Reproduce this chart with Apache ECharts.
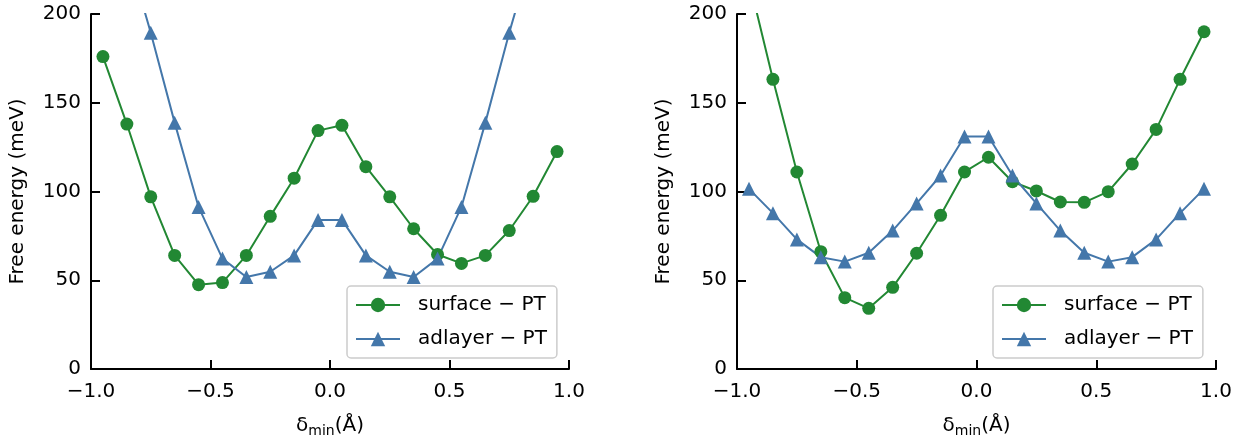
<!DOCTYPE html>
<html><head><meta charset="utf-8">
<script src="https://cdn.jsdelivr.net/npm/echarts@6/dist/echarts.min.js"></script>
<style>html,body{margin:0;padding:0;background:#fff}#c{width:1235px;height:437px}</style>
</head><body><div id="c"></div>
<script>
const deltas = [-0.95,-0.85,-0.75,-0.65,-0.55,-0.45,-0.35,-0.25,-0.15,-0.05,0.05,0.15,0.25,0.35,0.45,0.55,0.65,0.75,0.85,0.95];
const leftSurface = [176,138,97,64,47.5,48.7,64,86,107.5,134.3,137.3,114,97,79,64.5,59.5,64,78,97.3,122.5];
const leftAdlayer = [null,236,189.5,138.8,91.3,62.2,51.8,54.8,64,84,84,64,54.8,51.8,62.2,91.3,138.8,189.5,236,null];
const rightSurface = [219,163.2,111,66.1,40.2,34.2,46,65.2,86.6,111,119.3,105.5,100.3,94.1,93.9,99.9,115.5,135,163.2,190];
const rightAdlayer = [101.5,87.8,73,63,60.5,65.5,78,93.3,109,131,131,109,93.3,78,65.5,60.5,63,73,87.8,101.5];
const yTicks = [0,50,100,150,200];
const xTickLabels = ['−1.0','−0.5','0.0','0.5','1.0'];
const seriesNames = ['surface − PT','adlayer − PT'];

const GREEN = '#228833', BLUE = '#4477aa';
const FONT = 'DejaVu Sans';
const FS = 20;
const pairs = ys => deltas.map((x,i)=>[x, ys[i]]);

function xAxis(gi){
  return {
    gridIndex: gi, type:'value', min:-1, max:1, interval:0.5,
    axisLine:{onZero:false,lineStyle:{color:'#000',width:2}},
    axisTick:{inside:true,length:9,lineStyle:{color:'#000',width:2}},
    splitLine:{show:false},
    axisLabel:{color:'#000',fontFamily:FONT,fontSize:FS,margin:13,
      formatter:v=>xTickLabels[Math.round((v+1)/0.5)]},
    name:'{a|δ}{s|min}{a|(Å)}', nameLocation:'middle', nameGap:45,
    nameTextStyle:{rich:{a:{fontFamily:FONT,fontSize:FS,color:'#000'},
      s:{fontFamily:FONT,fontSize:14,color:'#000',padding:[10,0,0,0]}}}
  };
}
function yAxis(gi){
  return {
    gridIndex: gi, type:'value', min:0, max:200, interval:50,
    axisLine:{show:true,onZero:false,lineStyle:{color:'#000',width:2}},
    axisTick:{show:true,inside:true,length:9,lineStyle:{color:'#000',width:2}},
    splitLine:{show:false},
    axisLabel:{color:'#000',fontFamily:FONT,fontSize:FS,margin:10,
      formatter:v=>String(yTicks[yTicks.indexOf(v)])},
    name:'Free energy (meV)', nameLocation:'middle', nameGap:63,
    nameTextStyle:{fontFamily:FONT,fontSize:FS,color:'#000'}
  };
}
function ser(name, ys, gi, color, sym, size){
  return {name, type:'line', xAxisIndex:gi, yAxisIndex:gi, data:pairs(ys),
    symbol:sym, symbolSize:size, showSymbol:true, clip:true, connectNulls:false,
    lineStyle:{color, width:2}, itemStyle:{color}, emphasis:{disabled:true}, animation:false};
}
function legend(left){
  return {left, top:286, orient:'vertical', data:seriesNames,
    itemWidth:44, itemHeight:18, itemGap:14,
    padding:[9,10,9,8], borderColor:'#cccccc', borderWidth:1.5, borderRadius:4,
    backgroundColor:'rgba(255,255,255,0.8)',
    textStyle:{fontFamily:FONT,fontSize:FS,color:'#000',padding:[0,0,0,13]},
    selectedMode:false};
}
const chart = echarts.init(document.getElementById('c'), null, {renderer:'canvas'});
chart.setOption({
  animation:false,
  grid:[{left:91,top:14,width:478,height:355,containLabel:false,outerBoundsMode:'none'},
        {left:737,top:14,width:479,height:355,containLabel:false,outerBoundsMode:'none'}],
  xAxis:[xAxis(0),xAxis(1)],
  yAxis:[yAxis(0),yAxis(1)],
  legend:[legend(347),legend(993)],
  series:[
    ser(seriesNames[0], leftSurface, 0, GREEN, 'circle', 13),
    ser(seriesNames[1], leftAdlayer, 0, BLUE, 'triangle', 14),
    ser(seriesNames[0], rightSurface, 1, GREEN, 'circle', 13),
    ser(seriesNames[1], rightAdlayer, 1, BLUE, 'triangle', 14)
  ]
});
</script></body></html>
